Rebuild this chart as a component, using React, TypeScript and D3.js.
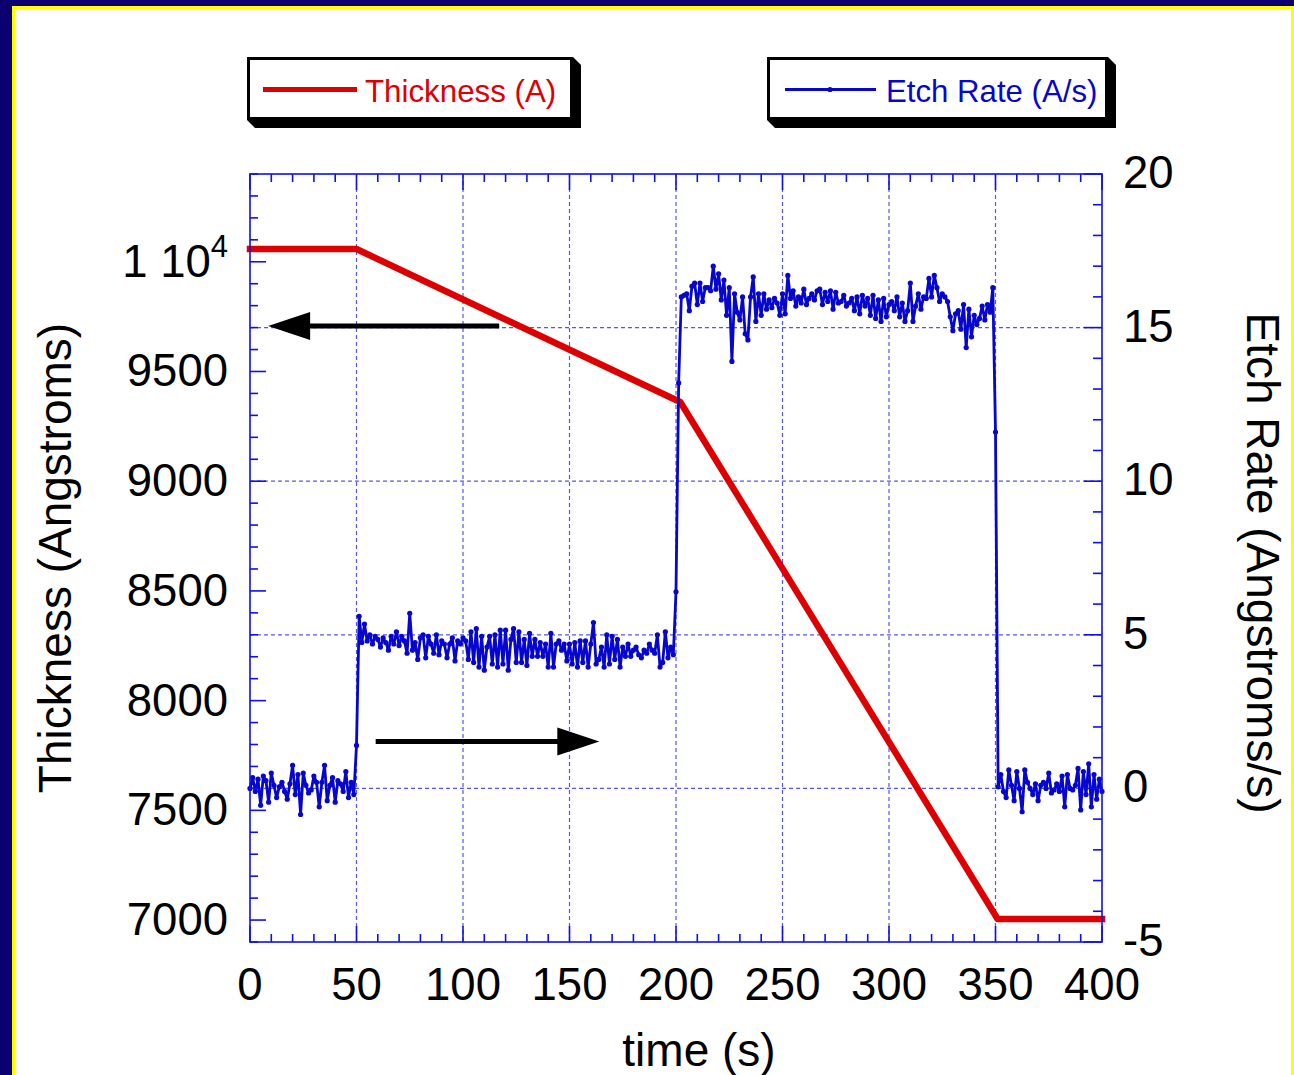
import React from "react";
import * as d3 from "d3";

// ---------- data ----------
const timeTicks = [0, 50, 100, 150, 200, 250, 300, 350, 400];
const thicknessTicks = [7000, 7500, 8000, 8500, 9000, 9500, 10000];
const rateTicks = [-5, 0, 5, 10, 15, 20];
const rateGrid = [0, 5, 10, 15];
const timeGrid = [50, 100, 150, 200, 250, 300, 350];

const thicknessTimes = [0, 50, 202, 351, 400];
const thicknessValues = [10058, 10058, 9361, 7005, 7005];

// etch rate samples (A/s), 1.25 s sampling
const rateIdleStart = [
  0.0, 0.35, -0.1, 0.3, -0.55, 0.4, 0.25, -0.45, 0.5, 0.1,
  -0.3, 0.05, 0.2, -0.1, -0.35, 0.15, 0.75, -0.2, 0.45, -0.85,
  0.5, 0.1, -0.15, -0.05, 0.4, 0.2, -0.6, 0.2, 0.75, -0.4,
  0.1, 0.35, -0.45, 0.25, 0.15, -0.1, 0.55, -0.3, 0.2, -0.2,
];
const rateRiseA = [1.4];
const ratePhaseA = [
  5.6, 4.75, 5.35, 4.8, 5.0, 4.7, 4.95, 4.85, 4.6, 4.9,
  4.75, 4.5, 4.95, 4.7, 5.1, 4.65, 4.95, 4.8, 4.4, 5.7,
  4.5, 4.75, 4.2, 4.9, 5.0, 4.25, 4.95, 4.7, 4.4, 5.0,
  4.35, 4.8, 4.7, 4.25, 4.7, 4.9, 4.15, 4.8, 4.7, 4.9,
  4.8, 4.2, 5.1, 4.1, 5.2, 3.95, 4.95, 3.85, 4.6, 4.95,
  4.05, 5.0, 3.95, 5.15, 4.05, 5.15, 3.85, 4.85, 5.2, 4.1,
  5.1, 4.1, 4.85, 4.0, 5.05, 4.3, 4.85, 4.3, 4.75, 4.3,
  4.7, 3.95, 5.05, 3.95, 4.7, 4.8, 4.5, 4.7, 4.15, 4.7,
  4.05, 4.75, 3.95, 4.8, 4.1, 4.8, 3.95, 4.7, 5.4, 4.05,
  4.2, 4.6, 3.95, 5.0, 4.05, 4.95, 4.2, 4.85, 3.95, 4.6,
  4.3, 4.7, 4.3, 4.5, 4.6, 4.35, 4.25, 4.5, 4.4, 4.7,
  4.5, 4.4, 5.0, 3.95, 4.1, 5.1, 4.25, 4.6, 4.35,
];
const rateRiseB = [6.4, 13.2];
const ratePhaseB = [
  16.0, 16.05, 16.1, 15.55, 16.35, 16.45, 15.75, 16.45, 15.85, 16.3,
  16.3, 16.2, 17.0, 16.25, 16.75, 15.9, 16.55, 15.4, 16.3, 13.9,
  16.1, 15.5, 15.25, 16.0, 14.8, 14.6, 16.0, 16.65, 15.2, 16.1,
  15.4, 16.1, 15.6, 15.9, 15.65, 15.95, 15.8, 15.4, 16.1, 15.45,
  16.7, 15.95, 16.2, 15.7, 16.0, 15.8, 16.25, 15.75, 15.95, 16.1,
  15.9, 16.2, 16.25, 15.75, 16.15, 15.85, 16.2, 15.6, 16.15, 15.8,
  15.85, 16.05, 15.7, 15.8, 15.95, 15.55, 16.0, 15.45, 16.05, 15.7,
  15.95, 15.4, 16.05, 15.3, 15.9, 15.2, 15.95, 15.35, 15.75, 15.85,
  15.55, 16.0, 15.35, 15.8, 15.2, 15.55, 16.45, 15.2, 15.7, 16.1,
  15.6, 16.0, 15.95, 16.6, 16.0, 16.7, 16.3, 15.85, 16.1, 16.0,
  15.85, 15.35, 14.9, 15.45, 15.55, 14.95, 15.75, 14.35, 15.6, 14.7,
  15.4, 15.1, 15.3, 15.7, 15.25, 15.75, 15.5, 16.3,
];
const rateFallB = [11.6];
const rateIdleEnd = [
  0.05, 0.45, -0.1, -0.3, 0.6, 0.1, -0.4, 0.55, 0.0, -0.76,
  0.6, 0.2, 0.0, -0.2, 0.15, -0.4, 0.1, 0.2, 0.0, 0.5,
  -0.15, -0.05, 0.15, -0.1, 0.4, -0.6, 0.45, 0.0, -0.05, 0.1,
  0.65, -0.7, 0.55, -0.2, 0.8, -0.6, 0.45, -0.35, 0.3, -0.1,
];

// segment time spans [start, end]
const rateSegments: [number[], number, number][] = [
  [rateIdleStart, 0, 48.75],
  [rateRiseA, 50, 50],
  [ratePhaseA, 51.25, 198.75],
  [rateRiseB, 200, 201.25],
  [ratePhaseB, 202.5, 348.75],
  [rateFallB, 350, 350],
  [rateIdleEnd, 351.25, 400],
];

// annotation arrows (data space)
const thicknessArrow = { from: 117, to: 8.5, value: 9707 };
const rateArrow = { from: 59, to: 164, value: 1.53 };

// ---------- layout ----------
const W = 1294;
const H = 1075;
const plot = { left: 250, right: 1102, top: 174, bottom: 942 };
const FONT = "'Liberation Sans', Arial, Helvetica, sans-serif";
const BLUE = "#1010e6";
const RATE_COLOR = "#0606cc";
const RED = "#dd0000";

export default function App() {
  const x = d3.scaleLinear().domain([0, 400]).range([plot.left, plot.right]);
  const yT = d3.scaleLinear().domain([6900, 10400]).range([plot.bottom, plot.top]);
  const yR = d3.scaleLinear().domain([-5, 20]).range([plot.bottom, plot.top]);

  const ratePoints: [number, number][] = [];
  rateSegments.forEach(([vals, t0, t1]) => {
    const n = vals.length;
    vals.forEach((v, i) => {
      const t = n === 1 ? t0 : t0 + ((t1 - t0) * i) / (n - 1);
      ratePoints.push([t, v]);
    });
  });
  const thickPoints: [number, number][] = thicknessTimes.map((t, i) => [t, thicknessValues[i]]);

  const rateLine = d3.line<[number, number]>().x((d) => x(d[0])).y((d) => yR(d[1]));
  const thickLine = d3.line<[number, number]>().x((d) => x(d[0])).y((d) => yT(d[1]));

  const minorTime = d3.range(0, 401, 10).filter((t) => t % 50 !== 0);
  const minorThick = d3.range(6900, 10401, 100).filter((v) => v % 500 !== 0);
  const minorRate = d3.range(-5, 21, 1).filter((v) => v % 5 !== 0);

  const legendShadow = (x0: number, y0: number, x1: number, y1: number, off: number) =>
    `M${x0},${y1} L${x0 + off},${y1 + off} L${x1 + off},${y1 + off} L${x1 + off},${y0 + off} L${x1},${y0} Z`;

  // arrows
  const la = { x1: x(thicknessArrow.from), x2: x(thicknessArrow.to), y: yT(thicknessArrow.value) };
  const ra = { x1: x(rateArrow.from), x2: x(rateArrow.to), y: yR(rateArrow.value) };
  const headLen = 42;
  const headHalf = 14;

  return (
    <svg
      width={W}
      height={H}
      style={{ position: "absolute", left: 0, top: 0, display: "block" }}
      fontFamily={FONT}
    >
      {/* frame background */}
      <rect x={0} y={0} width={W} height={H} fill="#0c0070" />
      <rect x={12} y={6} width={W - 12} height={H} fill="#ffff00" />
      <rect x={15} y={9} width={W - 18} height={H} fill="#ffffff" />

      {/* legends */}
      <path d={legendShadow(247, 57, 573, 120, 8)} fill="#000" />
      <rect x={248.5} y={58.5} width={323} height={60} fill="#fff" stroke="#000" strokeWidth={3} />
      <line x1={263} x2={357} y1={89.5} y2={89.5} stroke={RED} strokeWidth={5} />
      <text x={365} y={101.5} fontSize={31.3} fill={RED}>Thickness (A)</text>

      <path d={legendShadow(767, 57, 1108, 120, 8)} fill="#000" />
      <rect x={768.5} y={58.5} width={338} height={60} fill="#fff" stroke="#000" strokeWidth={3} />
      <line x1={785} x2={876} y1={89.5} y2={89.5} stroke={RATE_COLOR} strokeWidth={3} />
      <circle cx={830} cy={89.5} r={2.6} fill={RATE_COLOR} />
      <text x={886} y={101.5} fontSize={31.2} fill={RATE_COLOR}>Etch Rate (A/s)</text>

      {/* grid */}
      <g stroke={BLUE} strokeWidth={1.2} strokeDasharray="4,3" opacity={0.7}>
        {timeGrid.map((t) => (
          <line key={"gx" + t} x1={x(t)} x2={x(t)} y1={plot.top} y2={plot.bottom} />
        ))}
        {rateGrid.map((v) => (
          <line key={"gy" + v} x1={plot.left} x2={plot.right} y1={yR(v)} y2={yR(v)} />
        ))}
      </g>

      {/* thickness */}
      <path
        d={thickLine(thickPoints) || ""}
        fill="none"
        stroke={RED}
        strokeWidth={6.5}
        strokeLinejoin="round"
        strokeLinecap="square"
      />

      {/* etch rate */}
      <path
        d={rateLine(ratePoints) || ""}
        fill="none"
        stroke={RATE_COLOR}
        strokeWidth={2.8}
        strokeLinejoin="round"
      />
      <g fill={RATE_COLOR}>
        {ratePoints.map((p, i) => (
          <circle key={i} cx={x(p[0])} cy={yR(p[1])} r={2.6} />
        ))}
      </g>

      {/* axes frame */}
      <rect
        x={plot.left}
        y={plot.top}
        width={plot.right - plot.left}
        height={plot.bottom - plot.top}
        fill="none"
        stroke={BLUE}
        strokeWidth={1.6}
      />

      {/* ticks */}
      <g stroke={BLUE} strokeWidth={1.6}>
        {minorTime.map((t) => (
          <g key={"tt" + t}>
            <line x1={x(t)} x2={x(t)} y1={plot.bottom} y2={plot.bottom - 8} />
            <line x1={x(t)} x2={x(t)} y1={plot.top} y2={plot.top + 8} />
          </g>
        ))}
        {timeTicks.map((t) => (
          <g key={"tm" + t}>
            <line x1={x(t)} x2={x(t)} y1={plot.bottom} y2={plot.bottom - 16} />
            <line x1={x(t)} x2={x(t)} y1={plot.top} y2={plot.top + 16} />
          </g>
        ))}
        {minorThick.map((v) => (
          <line key={"th" + v} x1={plot.left} x2={plot.left + 8} y1={yT(v)} y2={yT(v)} />
        ))}
        {thicknessTicks.map((v) => (
          <line key={"thm" + v} x1={plot.left} x2={plot.left + 16} y1={yT(v)} y2={yT(v)} />
        ))}
        {minorRate.map((v) => (
          <line key={"r" + v} x1={plot.right} x2={plot.right - 9} y1={yR(v)} y2={yR(v)} />
        ))}
        {rateTicks.map((v) => (
          <line key={"rm" + v} x1={plot.right} x2={plot.right - 18} y1={yR(v)} y2={yR(v)} />
        ))}
      </g>

      {/* tick labels */}
      <g fontSize={45.5} fill="#000">
        {timeTicks.map((t) => (
          <text key={"lx" + t} x={x(t)} y={1000} textAnchor="middle">
            {String(t)}
          </text>
        ))}
        {thicknessTicks.map((v) =>
          v === 10000 ? (
            <text key={"ly" + v} x={228} y={yT(v) + 15} textAnchor="end">
              1 10
              <tspan dy={-20} fontSize={31}>4</tspan>
            </text>
          ) : (
            <text key={"ly" + v} x={228} y={yT(v) + 15} textAnchor="end">
              {String(v)}
            </text>
          )
        )}
        {rateTicks.map((v) => (
          <text key={"lr" + v} x={1123} y={yR(v) + 14} textAnchor="start">
            {String(v)}
          </text>
        ))}
      </g>

      {/* axis titles */}
      <text x={699} y={1066} fontSize={46} textAnchor="middle" fill="#000">time (s)</text>
      <text
        transform={`translate(71, ${(plot.top + plot.bottom) / 2}) rotate(-90)`}
        fontSize={46}
        textAnchor="middle"
        fill="#000"
      >
        Thickness (Angstroms)
      </text>
      <text
        transform={`translate(1247, ${(plot.top + plot.bottom) / 2 + 5}) rotate(90)`}
        fontSize={46}
        textAnchor="middle"
        fill="#000"
      >
        Etch Rate (Angstroms/s)
      </text>

      {/* arrows */}
      <line x1={la.x1} x2={la.x2 + headLen - 2} y1={la.y} y2={la.y} stroke="#000" strokeWidth={5} />
      <polygon
        points={`${la.x2},${la.y} ${la.x2 + headLen},${la.y - headHalf} ${la.x2 + headLen},${la.y + headHalf}`}
        fill="#000"
      />
      <line x1={ra.x1} x2={ra.x2 - headLen + 2} y1={ra.y} y2={ra.y} stroke="#000" strokeWidth={5} />
      <polygon
        points={`${ra.x2},${ra.y} ${ra.x2 - headLen},${ra.y - headHalf} ${ra.x2 - headLen},${ra.y + headHalf}`}
        fill="#000"
      />
    </svg>
  );
}
